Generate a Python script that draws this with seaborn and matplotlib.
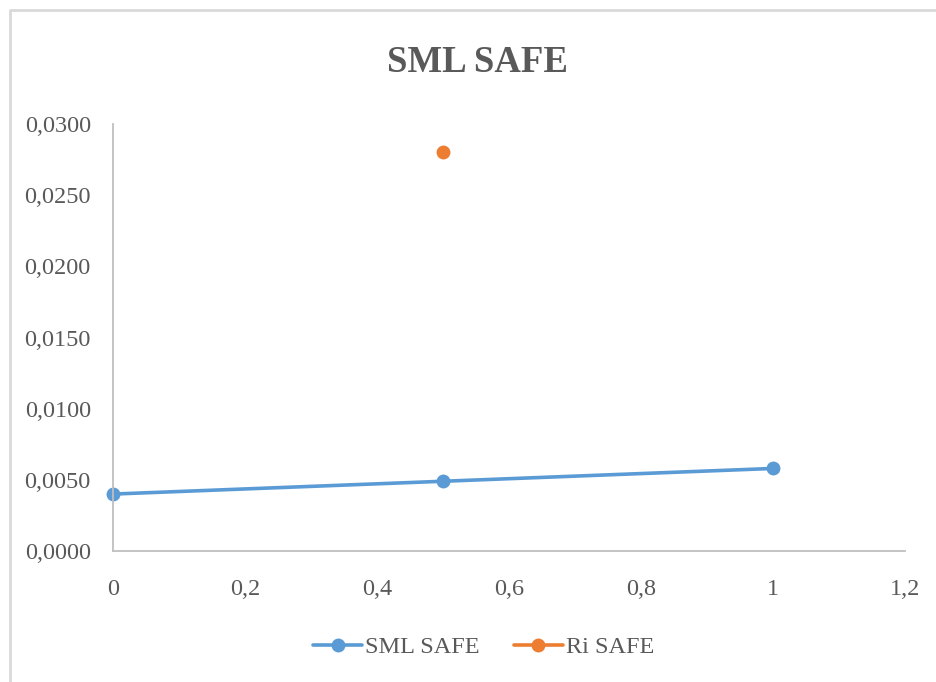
import matplotlib
matplotlib.use("Agg")
import matplotlib.pyplot as plt
from matplotlib.lines import Line2D
import seaborn as sns
import pandas as pd

# Series data
sml_x = [0.0, 0.5, 1.0]
sml_y = [0.0040, 0.0049, 0.0058]
ri_x = [0.5]
ri_y = [0.0280]

x_ticks = [0, 0.2, 0.4, 0.6, 0.8, 1.0, 1.2]
x_labels = ["0", "0,2", "0,4", "0,6", "0,8", "1", "1,2"]
y_ticks = [0.0, 0.005, 0.010, 0.015, 0.020, 0.025, 0.030]
y_labels = ["0,0000", "0,0050", "0,0100", "0,0150", "0,0200", "0,0250", "0,0300"]

sns.set_theme(style="white")
plt.rcParams["font.family"] = ["Liberation Serif", "DejaVu Serif"]

BLUE = "#5b9bd5"
ORANGE = "#ed7d31"
TEXT = "#595959"
AXIS = "#bfbfbf"

fig = plt.figure(figsize=(9.36, 6.82), dpi=100)
ax = fig.add_axes([113 / 936, 1 - 551 / 682, (905 - 113) / 936, (551 - 124) / 682])

sml = pd.DataFrame({"x": sml_x, "y": sml_y})
ri = pd.DataFrame({"x": ri_x, "y": ri_y})

sns.lineplot(data=sml, x="x", y="y", ax=ax, color=BLUE, linewidth=2.6,
             marker="o", markersize=10, markeredgewidth=0, clip_on=False)
sns.scatterplot(data=ri, x="x", y="y", ax=ax, color=ORANGE, s=100,
                linewidth=0, clip_on=False)

ax.set_xlim(0, 1.2)
ax.set_ylim(0, 0.030)
ax.set_xticks(x_ticks)
ax.set_xticklabels(x_labels)
ax.set_yticks(y_ticks)
ax.set_yticklabels(y_labels)
ax.set_xlabel("")
ax.set_ylabel("")
ax.tick_params(axis="both", length=0, labelsize=17.5, colors=TEXT)
ax.tick_params(axis="x", pad=20)
ax.tick_params(axis="y", pad=16)

for side in ["top", "right"]:
    ax.spines[side].set_visible(False)
for side in ["left", "bottom"]:
    ax.spines[side].set_color(AXIS)
    ax.spines[side].set_linewidth(1.3)
ax.grid(False)

fig.text(478 / 936, 1 - 63 / 682, "SML SAFE", ha="center", va="center",
         fontsize=26.5, fontweight="bold", color=TEXT)

handles = [
    Line2D([], [], color=BLUE, linewidth=2.6, marker="o", markersize=10, markeredgewidth=0),
    Line2D([], [], color=ORANGE, linewidth=2.6, marker="o", markersize=10, markeredgewidth=0),
]
leg = fig.legend(handles, ["SML SAFE", "Ri SAFE"], loc="center",
                 bbox_to_anchor=(484 / 936, 1 - 647 / 682), ncol=2, frameon=False,
                 fontsize=17.5, handlelength=2.0, handletextpad=0.15, columnspacing=1.4)
for t in leg.get_texts():
    t.set_color(TEXT)

# Chart area frame (top and left edges)
fig.add_artist(Line2D([10 / 936, 10 / 936, 1.0], [0.0, 1 - 10 / 682, 1 - 10 / 682],
                      transform=fig.transFigure, color="#d9d9d9", linewidth=2))

fig.savefig("out.png", dpi=100, facecolor="white")
